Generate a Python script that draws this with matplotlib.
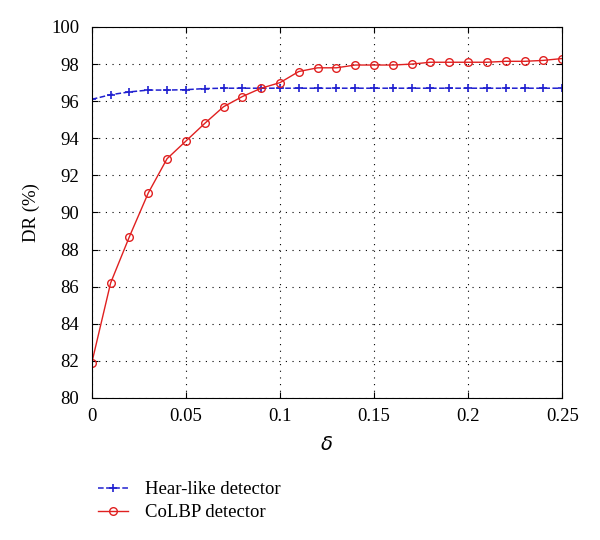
import matplotlib
matplotlib.use('Agg')
import matplotlib.pyplot as plt
import numpy as np

plt.rcParams['font.family'] = ['Liberation Serif', 'DejaVu Serif']

delta = [0.00, 0.01, 0.02, 0.03, 0.04, 0.05, 0.06, 0.07, 0.08, 0.09, 0.10,
         0.11, 0.12, 0.13, 0.14, 0.15, 0.16, 0.17, 0.18, 0.19, 0.20,
         0.21, 0.22, 0.23, 0.24, 0.25]
haar = [96.1, 96.35, 96.5, 96.6, 96.6, 96.62, 96.68, 96.7, 96.7, 96.7, 96.7,
        96.7, 96.7, 96.7, 96.7, 96.7, 96.7, 96.7, 96.7, 96.7, 96.7,
        96.7, 96.7, 96.7, 96.7, 96.7]
colbp = [81.9, 86.2, 88.7, 91.05, 92.9, 93.85, 94.8, 95.7, 96.25, 96.7, 97.0,
         97.6, 97.8, 97.8, 97.95, 97.95, 97.95, 98.0, 98.1, 98.1, 98.1,
         98.1, 98.15, 98.15, 98.2, 98.3]

fig = plt.figure(figsize=(6, 5.4), dpi=100)
ax = fig.add_axes([0.153, 0.263, 0.784, 0.687])

l1, = ax.plot(delta, haar, '--+', color='#2020d0', lw=1.1, ms=6, mew=1.2)
l2, = ax.plot(delta, colbp, '-o', color='#e02020', lw=1.0, ms=5.5, mfc='none', mew=1.0)

ax.set_xlim(0, 0.25)
ax.set_ylim(80, 100)
ax.set_xticks([0, 0.05, 0.1, 0.15, 0.2, 0.25])
ax.set_xticklabels(['0', '0.05', '0.1', '0.15', '0.2', '0.25'])
ax.set_yticks(np.arange(80, 101, 2))
ax.tick_params(direction='in', labelsize=13.5, top=True, right=True, length=4)
ax.tick_params(axis='y', pad=9)
ax.tick_params(axis='x', pad=7)
ax.grid(True, color='black', linestyle=(0, (1, 5)), lw=0.8)
ax.set_xlabel(r'$\delta$', fontsize=14, labelpad=8)
ax.set_ylabel('DR (%)', fontsize=13.5, labelpad=8)

fig.legend([l1, l2], ['Hear-like detector', 'CoLBP detector'],
           loc='upper left', bbox_to_anchor=(0.135, 0.14), frameon=False,
           fontsize=13.5, handlelength=1.6, handletextpad=0.9, labelspacing=0.3)

fig.savefig('out.png')
